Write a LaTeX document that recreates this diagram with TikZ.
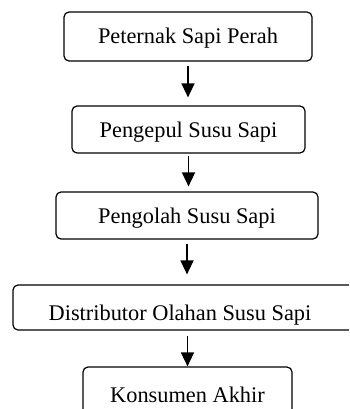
\documentclass[tikz,border=0pt]{standalone}
\usepackage{fontspec}
\setmainfont{Liberation Serif}
\usetikzlibrary{arrows.meta}
\tikzset{
  box/.style={draw, line width=1.2pt, rounded corners=5pt, inner sep=0pt,
    text height=17pt, text depth=2pt, align=center},
  arr/.style={line width=1.5pt, -{Triangle[length=14pt,width=13pt]}}
}
\begin{document}
\begin{tikzpicture}[x=1pt, y=-1pt, font=\fontsize{22.35}{26}\selectfont]
\path[use as bounding box, clip] (0,0) rectangle (349,409);
\node[box, minimum width=248pt, minimum height=49pt] (b1) at (188,36.5) {Peternak Sapi Perah};
\node[box, minimum width=233pt, minimum height=47pt] (b2) at (188.5,129.5) {Pengepul Susu Sapi};
\node[box, minimum width=262pt, minimum height=47pt] (b3) at (187,215.5) {Pengolah Susu Sapi};
\node[box, minimum width=342pt, minimum height=45pt, text height=25pt, text depth=0pt] (b4) at (184,307.5) {Distributor Olahan Susu Sapi\hspace{8pt}};
\node[box, minimum width=209pt, minimum height=55pt] (b5) at (187.5,394.5) {Konsumen Akhir};
\draw[arr, shorten <=4pt, shorten >=8pt] (b1.south) -- (b1.south |- b2.north);
\draw[arr, shorten <=2pt, shorten >=5pt] (b2.south) -- (b2.south |- b3.north);
\draw[arr, shorten <=4pt, shorten >=10pt] (b3.south) -- (b3.south |- b4.north);
\draw[arr, shorten <=5pt] (b5.north |- b4.south) -- (b5.north);
\end{tikzpicture}
\end{document}
